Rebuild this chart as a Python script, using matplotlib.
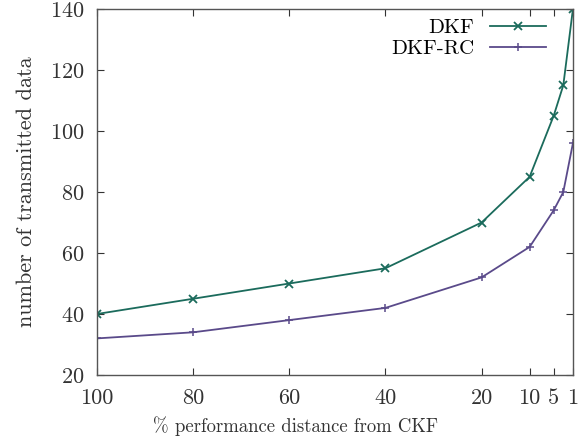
import matplotlib
matplotlib.use("Agg")
import matplotlib.pyplot as plt

x = [100, 80, 60, 40, 20, 10, 5, 3, 1]
dkf = [40, 45, 50, 55, 70, 85, 105, 115, 140]
dkf_rc = [32, 34, 38, 42, 52, 62, 74, 80, 96]
xticks = [100, 80, 60, 40, 20, 10, 5, 1]
yticks = [20, 40, 60, 80, 100, 120, 140]

plt.rcParams['font.family'] = 'serif'
plt.rcParams['font.serif'] = ['cmr10', 'DejaVu Serif']
plt.rcParams['mathtext.fontset'] = 'cm'
plt.rcParams['axes.formatter.use_mathtext'] = True

fig = plt.figure(figsize=(5.87, 4.43), dpi=100)
ax = fig.add_axes([0.165, 0.1535, 0.811, 0.826])

ax.plot(x, dkf, color='#1b6b5c', lw=1.3, marker='x', ms=6, mew=1.3, label='DKF')
ax.plot(x, dkf_rc, color='#5a4a8a', lw=1.3, marker='+', ms=6, mew=1.1, label='DKF-RC')

ax.set_xlim(100, 1)
ax.set_ylim(20, 140)
ax.set_xticks(xticks)
ax.set_xticklabels([str(v) for v in xticks])
ax.set_yticks(yticks)
ax.tick_params(direction='in', top=True, right=True, length=5, width=0.8,
               labelsize=16, colors='#333333')
ax.tick_params(axis='x', pad=10)
ax.tick_params(axis='y', pad=9)
for s in ax.spines.values():
    s.set_color('#555555')
    s.set_linewidth(1.0)

ax.set_xlabel('% performance distance from CKF', fontsize=13.5, color='#333333')
ax.xaxis.set_label_coords((296 / 587 - 0.165) / 0.811, -0.113)
ax.set_ylabel('number of transmitted data', fontsize=16, color='#333333', labelpad=10)

leg = ax.legend(loc='upper right', frameon=False, markerfirst=False, fontsize=15,
                handlelength=2.7, handletextpad=0.75, borderaxespad=0.2,
                labelspacing=0.12, bbox_to_anchor=(0.97, 1.008))

fig.savefig('out.png', dpi=100)
